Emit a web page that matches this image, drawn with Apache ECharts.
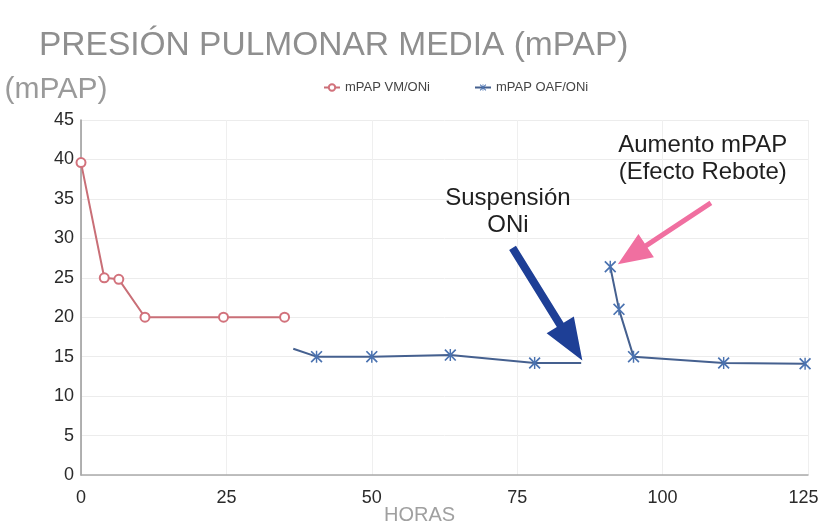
<!DOCTYPE html>
<html>
<head>
<meta charset="utf-8">
<script src="https://cdn.jsdelivr.net/npm/echarts@6/dist/echarts.min.js"></script>
<style>
  html, body { margin: 0; padding: 0; background: #fff; }
  #chart { width: 818px; height: 526px; }
</style>
</head>
<body>
<div id="chart"></div>
<script>
// Mean pulmonary artery pressure (mPAP) over time, in hours
const xTicks = [0, 25, 50, 75, 100, 125];
const yTicks = [0, 5, 10, 15, 20, 25, 30, 35, 40, 45];

// Mechanical ventilation + inhaled nitric oxide
const hoursVM = [0, 4, 6.5, 11, 24.5, 35];
const mpapVM  = [39.6, 25, 24.8, 20, 20, 20];

// High-flow oxygen + inhaled nitric oxide, before withdrawal of iNO
const hoursOAF1 = [36.5, 40.5, 50, 63.5, 78, 86];
const mpapOAF1  = [16, 15, 15, 15.2, 14.2, 14.2];

// High-flow oxygen after withdrawal (rebound)
const hoursOAF2 = [91, 92.5, 95, 110.5, 124.5];
const mpapOAF2  = [26.4, 21, 15, 14.2, 14.1];

// Callouts: [hours, mPAP] for text centre, arrow tail and arrow tip
const noteStop    = { text: 'Suspensión\nONi', at: [73.4, 33.4], from: [74.2, 28.8], to: [86.2, 14.5] };
const noteRebound = { text: 'Aumento mPAP\n(Efecto Rebote)', at: [106.9, 40.1], from: [108.3, 34.5], to: [92.3, 26.7] };

const RED = '#d2727c';
const BLUE = '#4a72b0';

function pairs(xs, ys) { return xs.map((x, i) => [x, ys[i]]); }

// First OAF segment: its two ends are drawn without a marker
const oaf1Data = pairs(hoursOAF1, mpapOAF1).map((p, i, a) =>
  (i === 0 || i === a.length - 1) ? { value: p, symbol: 'none' } : p);

const starPath = 'path://M0,1L1,0L10,9L9,10ZM9,0L10,1L1,10L0,9ZM4.4,0L5.6,0L5.6,10L4.4,10Z';
const tickFont = { fontFamily: 'Liberation Sans', fontSize: 18, color: '#2a2a2a' };
const xMax = xTicks[xTicks.length - 1];

const chart = echarts.init(document.getElementById('chart'));
chart.setOption({
  animation: false,
  title: {
    text: 'PRESIÓN PULMONAR MEDIA (mPAP)',
    left: 34, top: 24,
    textStyle: { fontFamily: 'Liberation Sans', fontSize: 33.5, fontWeight: 'normal', color: '#8f8f8f' }
  },
  legend: {
    left: 318, top: 76,
    itemWidth: 16, itemHeight: 8, itemGap: 44,
    textStyle: { fontFamily: 'Liberation Sans', fontSize: 13, color: '#444' },
    data: ['mPAP VM/ONi', 'mPAP OAF/ONi']
  },
  grid: { left: 81, right: 10, top: 120, bottom: 51, outerBoundsMode: 'none' },
  xAxis: {
    type: 'value', min: xTicks[0], max: xMax, interval: 25,
    name: 'HORAS', nameLocation: 'middle', nameGap: 30, nameMoveOverlap: false,
    nameTextStyle: { fontFamily: 'Liberation Sans', fontSize: 20, color: '#a0a0a0', padding: [0, 50, 0, 0] },
    axisLine: { show: true, lineStyle: { color: '#aaa', width: 1.5 } },
    axisTick: { show: false },
    axisLabel: Object.assign({
      margin: 14,
      // the last label sits at the page edge, nudge it inward
      formatter: v => (v === xMax ? '{edge|' + v + '}' : String(v)),
      rich: { edge: Object.assign({ padding: [0, 9, 0, 0] }, tickFont) }
    }, tickFont),
    splitLine: { show: true, lineStyle: { color: '#efefef' } }
  },
  yAxis: {
    type: 'value', min: yTicks[0], max: yTicks[yTicks.length - 1], interval: 5,
    name: '(mPAP)', nameLocation: 'end', nameGap: 15,
    nameTextStyle: { fontFamily: 'Liberation Sans', fontSize: 30, color: '#9a9a9a', align: 'center', padding: [0, 50, 0, 0] },
    axisLine: { show: true, lineStyle: { color: '#999', width: 1.5 } },
    axisTick: { show: false },
    axisLabel: Object.assign({ margin: 7 }, tickFont),
    splitLine: { show: true, lineStyle: { color: '#ececec' } }
  },
  series: [
    {
      name: 'mPAP VM/ONi', type: 'line',
      data: pairs(hoursVM, mpapVM),
      symbol: 'emptyCircle', symbolSize: 9,
      lineStyle: { color: '#c96f77', width: 2 },
      itemStyle: { color: RED, borderColor: RED, borderWidth: 1.5 }
    },
    {
      name: 'mPAP OAF/ONi', type: 'line',
      data: oaf1Data,
      symbol: starPath, symbolSize: 12,
      lineStyle: { color: '#45608f', width: 2 },
      itemStyle: { color: BLUE }
    },
    {
      name: 'mPAP OAF/ONi', type: 'line',
      data: pairs(hoursOAF2, mpapOAF2),
      symbol: starPath, symbolSize: 12,
      lineStyle: { color: '#45608f', width: 2 },
      itemStyle: { color: BLUE }
    }
  ]
});

// Callout arrows and their captions, placed through the axes
function arrowPoints(p0, p1, shaft, headLen, headW) {
  const dx = p1[0] - p0[0], dy = p1[1] - p0[1];
  const len = Math.hypot(dx, dy);
  const ux = dx / len, uy = dy / len, nx = -uy, ny = ux;
  const b = [p1[0] - ux * headLen, p1[1] - uy * headLen];
  const off = (p, k) => [p[0] + nx * k, p[1] + ny * k];
  return [off(p0, shaft / 2), off(b, shaft / 2), off(b, headW / 2), p1,
          off(b, -headW / 2), off(b, -shaft / 2), off(p0, -shaft / 2)];
}
const px = v => chart.convertToPixel({ gridIndex: 0 }, v);
const caption = (note) => {
  const c = px(note.at);
  return {
    type: 'text', x: c[0], y: c[1], z: 10,
    style: { text: note.text, align: 'center', verticalAlign: 'middle',
             font: '24px "Liberation Sans"', fill: '#1f1f1f', lineHeight: 27 }
  };
};
chart.setOption({
  graphic: [
    { type: 'polygon', z: 10, shape: { points: arrowPoints(px(noteStop.from), px(noteStop.to), 8, 42, 32) },
      style: { fill: '#1e3f96' } },
    { type: 'polygon', z: 10, shape: { points: arrowPoints(px(noteRebound.from), px(noteRebound.to), 5, 34, 28) },
      style: { fill: '#f06fa0' } },
    caption(noteStop),
    caption(noteRebound)
  ]
});
</script>
</body>
</html>
